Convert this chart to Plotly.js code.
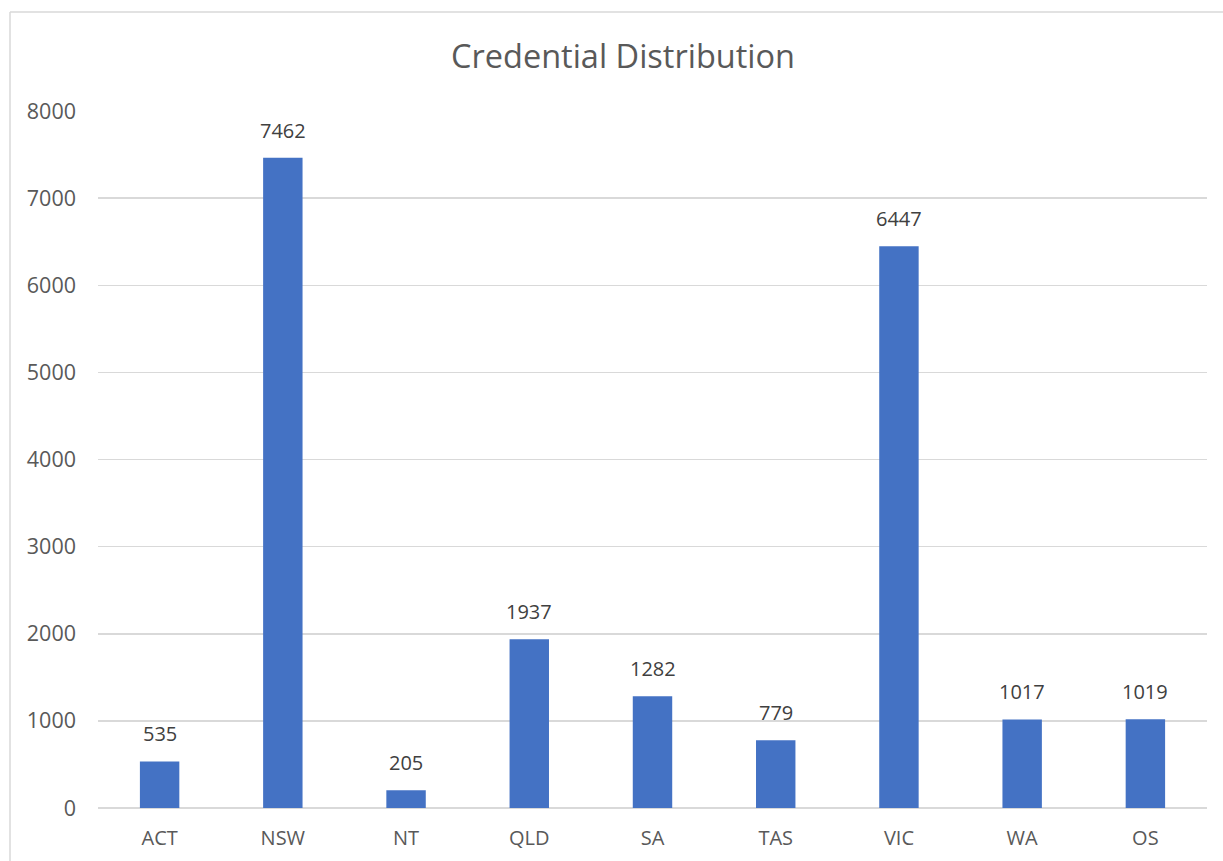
<!DOCTYPE html>
<html>
<head>
<meta charset="utf-8">
<script src="https://cdn.plot.ly/plotly-3.0.1.min.js"></script>
<style>html,body{margin:0;padding:0;background:#fff;}#chart{width:1223px;height:861px;}</style>
</head>
<body>
<div id="chart"></div>
<script>
const categories = ["ACT", "NSW", "NT", "QLD", "SA", "TAS", "VIC", "WA", "OS"];
const credentials = [535, 7462, 205, 1937, 1282, 779, 6447, 1017, 1019];
const yTicks = [0, 1000, 2000, 3000, 4000, 5000, 6000, 7000, 8000];

const fontFam = "Open Sans, Liberation Sans, sans-serif";
const plotL = 98, plotR = 1207, plotT = 111, plotB = 808, W = 1223, H = 861;
const pw = plotR - plotL, ph = plotB - plotT;

const trace = {
  type: "bar",
  x: categories,
  y: credentials,
  marker: {color: "#4472C4"},
  hoverinfo: "x+y"
};

const labelAnnotations = categories.map((c, i) => ({
  x: c, y: credentials[i], xref: "x", yref: "y",
  text: String(credentials[i]), showarrow: false,
  xanchor: "center", yanchor: "bottom", yshift: 12,
  font: {family: fontFam, size: 20, color: "#404040"}
}));

const layout = {
  width: W, height: H,
  margin: {l: plotL, r: W - plotR, t: plotT, b: H - plotB, pad: 0},
  paper_bgcolor: "#ffffff",
  plot_bgcolor: "#ffffff",
  bargap: 0.68,
  showlegend: false,
  title: {text: "Credential Distribution", xref: "container", x: 623/W, xanchor: "center", y: 1 - 57/H, yanchor: "middle",
          font: {family: fontFam, size: 32.5, color: "#595959"}},
  xaxis: {
    type: "category",
    tickfont: {family: fontFam, size: 20, color: "#595959"},
    showgrid: false, showline: false, ticks: "", zeroline: false,
    ticklabelstandoff: 16
  },
  yaxis: {
    range: [0, 8000],
    tickvals: yTicks,
    ticktext: yTicks.map(String),
    tickfont: {family: fontFam, size: 21.5, color: "#595959"},
    showgrid: true, gridcolor: "#d9d9d9", gridwidth: 1.5,
    zeroline: true, zerolinecolor: "#d9d9d9", zerolinewidth: 1.5,
    showline: false, ticks: "",
    ticklabelstandoff: 21
  },
  annotations: labelAnnotations,
  shapes: [
    {type: "line", xref: "paper", yref: "paper",
     x0: (10 - plotL)/pw, x1: (10 - plotL)/pw, y0: 1 + (plotT - 12)/ph, y1: -(H - plotB + 5)/ph,
     line: {color: "#d9d9d9", width: 1.5}},
    {type: "line", xref: "paper", yref: "paper",
     x0: (10 - plotL)/pw, x1: (W + 5 - plotL)/pw, y0: 1 + (plotT - 12)/ph, y1: 1 + (plotT - 12)/ph,
     line: {color: "#d9d9d9", width: 1.5}}
  ]
};

Plotly.newPlot("chart", [trace], layout, {displayModeBar: false, staticPlot: true});
</script>
</body>
</html>
